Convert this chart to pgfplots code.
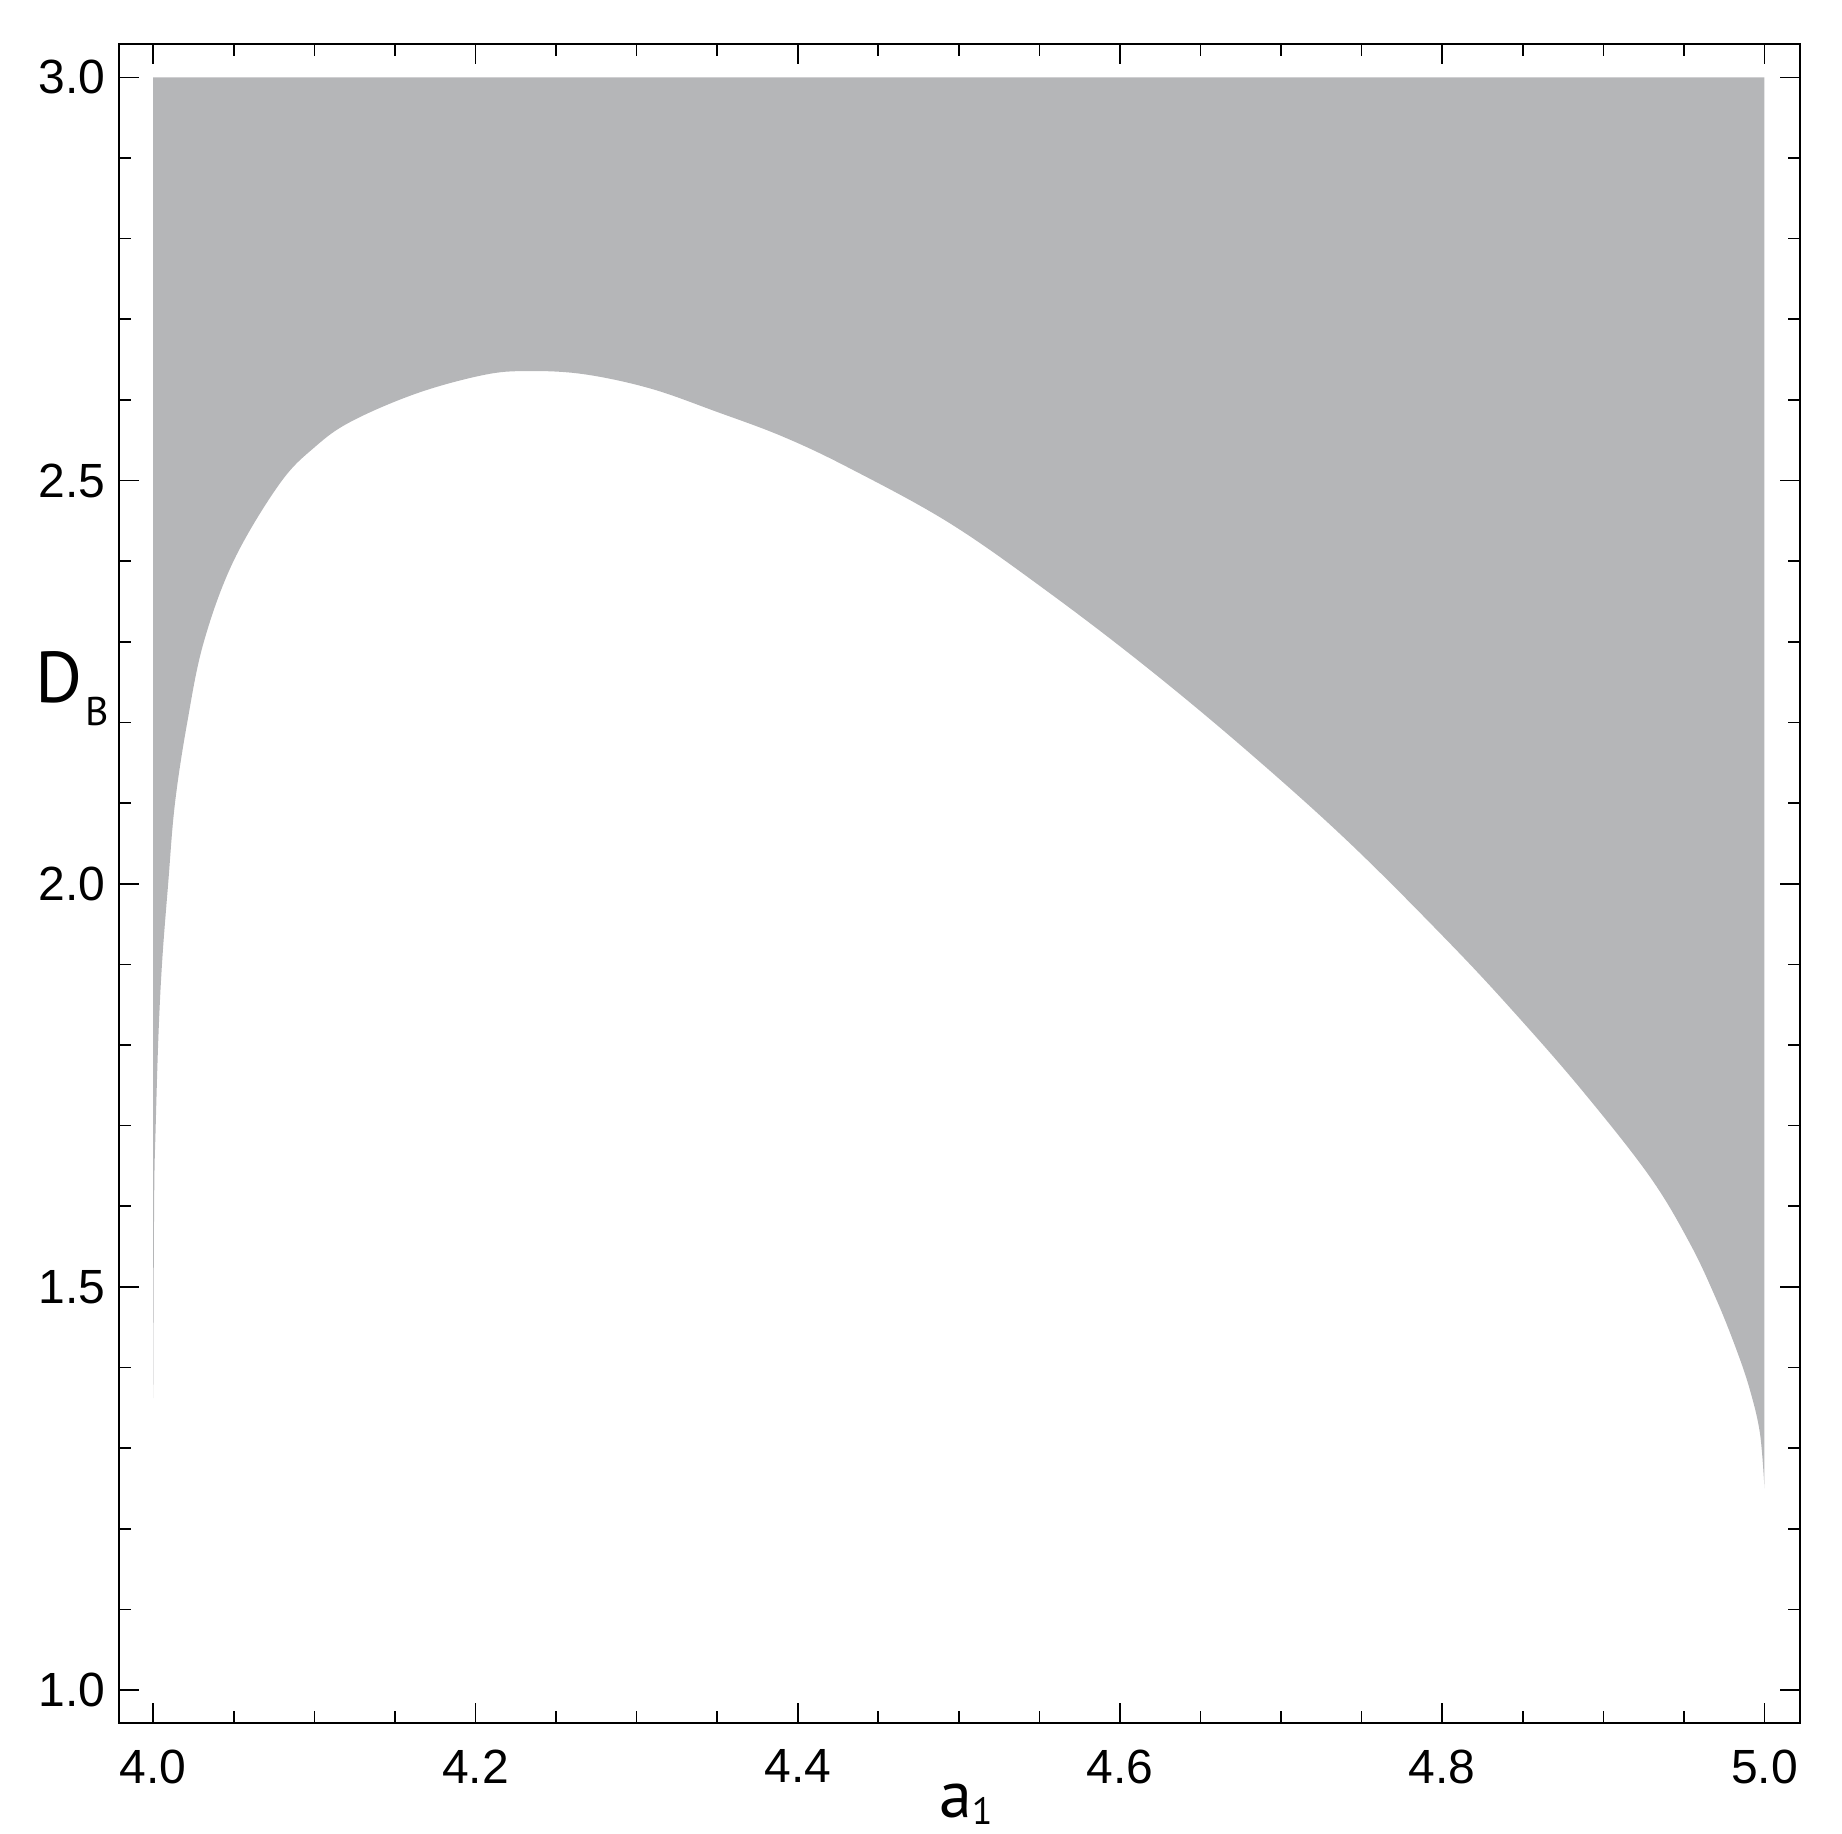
\documentclass[border=0pt]{standalone}
\usepackage{fontspec}
\setmainfont{Liberation Sans}
\newfontfamily\labelfont{PT Sans}
\usepackage{pgfplots}
\pgfplotsset{compat=1.18}
\usepgfplotslibrary{fillbetween}
\definecolor{regiongray}{RGB}{181,182,184}

\begin{document}
\begin{tikzpicture}
\begin{axis}[
  scale only axis,
  width=420.3pt, height=419.75pt,
  xmin=3.9789, xmax=5.0223,
  ymin=0.9587, ymax=3.0409,
  xtick={4,4.2,4.4,4.6,4.8,5}, minor x tick num=3,
  ytick={1,1.5,2,2.5,3}, minor y tick num=4,
  tick align=inside,
  major tick length=5pt, minor tick length=3pt,
  tick style={black, line width=0.4pt},
  axis line style={black, line width=0.5pt},
  /pgf/number format/.cd, fixed, fixed zerofill, precision=1,
  assume math mode=true,
  /pgfplots/.cd,
  tick label style={font=\fontsize{12}{14}\selectfont},
  xticklabel style={yshift=-3pt},
  clip=false,
]
% boundary curve
\addplot[name path=curve, draw=none, smooth, tension=0.6] coordinates {
  (4.0,1.362)
  (4.0006,1.6093) (4.0015,1.6956) (4.0033,1.8139) (4.0056,1.9049)
  (4.0093,2.0004) (4.0135,2.0996) (4.0211,2.1997) (4.0314,2.2998)
  (4.0500,2.4008) (4.0786,2.4964) (4.1005,2.5419) (4.1231,2.5735)
  (4.1635,2.6081) (4.2048,2.6308) (4.2318,2.6358) (4.2669,2.6320)
  (4.3083,2.6143) (4.3497,2.5853) (4.3910,2.5543) (4.4324,2.5151)
  (4.4945,2.4469) (4.5566,2.3601) (4.6187,2.2650) (4.6807,2.1617)
  (4.7428,2.0500) (4.8048,1.9260) (4.8462,1.8370) (4.8875,1.7420)
  (4.9289,1.6366) (4.9537,1.5540) (4.9703,1.4837) (4.9827,1.4216)
  (4.9910,1.3720) (4.9972,1.3183) (5.0,1.2502)
};
% upper edge of the region
\addplot[name path=top, draw=none] coordinates {(4.0,3.0) (5.0,3.0)};
\addplot[fill=regiongray, draw=none] fill between[of=curve and top];
\node[anchor=base west, inner sep=0pt] at (rel axis cs:-0.0505,0.6083)
  {\labelfont\fontsize{18}{21}\selectfont D\hspace{0.8pt}\raisebox{-5.75pt}{\fontsize{10}{12}\selectfont B}};
\node[anchor=base, inner sep=0pt, yshift=-23.5pt, xshift=1.5pt] at (rel axis cs:0.5,0)
  {\labelfont\fontsize{16.5}{19}\selectfont a\raisebox{-1.8pt}{\fontsize{9.5}{11}\selectfont 1}};
\end{axis}
\pgfresetboundingbox
\path[use as bounding box] ([shift={(-29.8pt,-27.4pt)}]current axis.south west)
  rectangle ([shift={(10.4pt,11.1pt)}]current axis.north east);
\end{tikzpicture}
\end{document}
